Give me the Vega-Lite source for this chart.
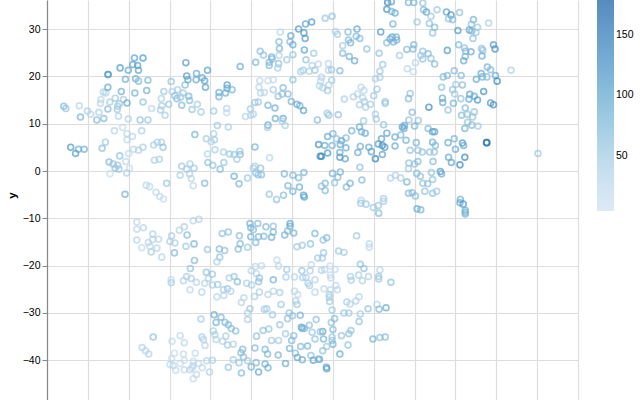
{"$schema":"https://vega.github.io/schema/vega-lite/v6.json","width":531,"height":400,"autosize":{"type":"none"},"padding":{"left":47,"top":0,"right":62,"bottom":0},"background":"white","view":{"stroke":null},"config":{"font":"Liberation Sans"},
"data":{"values":[
{"x":-55.9,"y":13.7,"c":70},{"x":-55.4,"y":13.2,"c":60},{"x":-52.1,"y":13.8,"c":30},{"x":-50.1,"y":12.7,"c":40},{"x":-51.8,"y":11.4,"c":80},{"x":-49.3,"y":12.0,"c":30},{"x":-47.3,"y":12.4,"c":40},{"x":-47.8,"y":10.8,"c":70},{"x":-46.1,"y":11.1,"c":70},{"x":-45.1,"y":13.1,"c":70},{"x":-44.6,"y":14.6,"c":45},{"x":-46.8,"y":15.1,"c":25},{"x":-46.9,"y":14.3,"c":30},{"x":-46.2,"y":16.7,"c":40},{"x":-45.6,"y":16.5,"c":35},{"x":-45.1,"y":17.7,"c":90},{"x":-45.1,"y":20.4,"c":110},{"x":-45.0,"y":20.4,"c":100},{"x":-43.3,"y":15.4,"c":50},{"x":-41.8,"y":16.8,"c":85},{"x":-42.1,"y":21.8,"c":110},{"x":-40.1,"y":21.3,"c":95},{"x":-39,"y":22.5,"c":100},{"x":-38.6,"y":23.9,"c":100},{"x":-36.5,"y":23.9,"c":110},{"x":-37.8,"y":22.3,"c":100},{"x":-37.6,"y":21.3,"c":100},{"x":-40.8,"y":19.4,"c":85},{"x":-38.3,"y":19.5,"c":85},{"x":-37.6,"y":19,"c":70},{"x":-35.3,"y":19.2,"c":75},{"x":-35.6,"y":17,"c":85},{"x":-38.5,"y":16.5,"c":80},{"x":-36.5,"y":14.6,"c":60},{"x":-41.3,"y":15.1,"c":45},{"x":-42.3,"y":14.2,"c":50},{"x":-42.7,"y":13.7,"c":50},{"x":-40.4,"y":14.4,"c":90},{"x":-42.8,"y":13,"c":50},{"x":-42.5,"y":11.6,"c":35},{"x":-40.1,"y":11,"c":35},{"x":-37.2,"y":10.8,"c":60},{"x":-35.3,"y":10.8,"c":55},{"x":-34.4,"y":13.2,"c":30},{"x":-32,"y":15.3,"c":35},{"x":-31.4,"y":16.8,"c":50},{"x":-29.6,"y":18.9,"c":60},{"x":-29.4,"y":16.8,"c":35},{"x":-28,"y":17.2,"c":45},{"x":-26.7,"y":16.5,"c":50},{"x":-26.2,"y":18.2,"c":70},{"x":-28.7,"y":15.9,"c":60},{"x":-28.2,"y":15.3,"c":65},{"x":-27.3,"y":15.6,"c":55},{"x":-25.3,"y":15.8,"c":75},{"x":-25.1,"y":14.9,"c":65},{"x":-27,"y":13.9,"c":70},{"x":-30.2,"y":14.1,"c":55},{"x":-31.9,"y":13.8,"c":40},{"x":-32.2,"y":12.9,"c":45},{"x":-31.1,"y":11.8,"c":40},{"x":-24.5,"y":13,"c":55},{"x":-23.2,"y":14.1,"c":45},{"x":-22.3,"y":12.5,"c":45},{"x":-19.2,"y":12.7,"c":50},{"x":-16,"y":13.2,"c":30},{"x":-16,"y":12.3,"c":20},{"x":-26,"y":22.9,"c":110},{"x":-25.8,"y":20.1,"c":110},{"x":-25.5,"y":19.3,"c":95},{"x":-23.4,"y":20.6,"c":90},{"x":-23.5,"y":19.3,"c":90},{"x":-22,"y":19.7,"c":90},{"x":-21.4,"y":19.1,"c":100},{"x":-21.2,"y":17.7,"c":100},{"x":-20.7,"y":21.3,"c":100},{"x":-17.9,"y":16.6,"c":85},{"x":-17.9,"y":15.7,"c":80},{"x":-16.3,"y":16.5,"c":85},{"x":-15.9,"y":18.2,"c":105},{"x":-15.9,"y":17.5,"c":90},{"x":-14.7,"y":17.2,"c":80},{"x":-12.7,"y":22.1,"c":90},{"x":-8.9,"y":23,"c":75},{"x":-7.8,"y":25.3,"c":65},{"x":-7,"y":24.5,"c":60},{"x":-5,"y":24.1,"c":80},{"x":-4.9,"y":23.7,"c":70},{"x":-5.6,"y":23,"c":70},{"x":-5.6,"y":22.3,"c":70},{"x":-3.3,"y":22.7,"c":60},{"x":-3.5,"y":21.8,"c":40},{"x":-3.2,"y":24.4,"c":35},{"x":-3.1,"y":25.9,"c":75},{"x":-3.2,"y":27.3,"c":70},{"x":-2.9,"y":29.4,"c":30},{"x":-1.3,"y":23.5,"c":50},{"x":-0.3,"y":28.6,"c":90},{"x":-0.5,"y":27.3,"c":70},{"x":0.2,"y":26.7,"c":90},{"x":0.2,"y":24.6,"c":60},{"x":1.6,"y":30,"c":110},{"x":3.3,"y":31.1,"c":100},{"x":4.8,"y":31.5,"c":110},{"x":2.9,"y":29.2,"c":110},{"x":3.2,"y":28,"c":110},{"x":3,"y":25.6,"c":100},{"x":5.3,"y":24.9,"c":50},{"x":3.4,"y":23.5,"c":60},{"x":4.9,"y":22.3,"c":35},{"x":6.4,"y":22.6,"c":25},{"x":5.6,"y":21.3,"c":50},{"x":4.2,"y":21.1,"c":35},{"x":2.7,"y":21.3,"c":50},{"x":2.1,"y":21,"c":40},{"x":0.2,"y":19.3,"c":60},{"x":-7.9,"y":19.1,"c":25},{"x":-5.9,"y":19.1,"c":20},{"x":-4.6,"y":19.3,"c":20},{"x":-8.1,"y":17.7,"c":25},{"x":-7.7,"y":16.5,"c":30},{"x":-6.8,"y":16.6,"c":30},{"x":-4.6,"y":17.2,"c":45},{"x":-3.4,"y":15.8,"c":60},{"x":-2.2,"y":17.6,"c":70},{"x":-2.4,"y":16.3,"c":60},{"x":-1,"y":16.3,"c":70},{"x":-0.2,"y":14.7,"c":80},{"x":1.2,"y":14.1,"c":90},{"x":1.9,"y":13.8,"c":85},{"x":2.8,"y":12.8,"c":100},{"x":-9.1,"y":14.5,"c":55},{"x":-8.3,"y":14.6,"c":50},{"x":-5.9,"y":13.9,"c":75},{"x":-4.2,"y":13.3,"c":85},{"x":-10.2,"y":13.1,"c":50},{"x":-9.5,"y":12,"c":35},{"x":-10.1,"y":11.8,"c":35},{"x":-11.4,"y":11.5,"c":30},{"x":-5.9,"y":9.7,"c":90},{"x":-6,"y":9.2,"c":40},{"x":-4.1,"y":11.1,"c":85},{"x":-2.2,"y":11.1,"c":90},{"x":-2.4,"y":10.5,"c":40},{"x":-1.7,"y":9.6,"c":40},{"x":6.2,"y":10.8,"c":70},{"x":-18.3,"y":9.6,"c":50},{"x":-15.6,"y":9.3,"c":40},{"x":-19.2,"y":7.9,"c":40},{"x":-23.8,"y":7.7,"c":80},{"x":-21,"y":6.8,"c":45},{"x":-19.8,"y":6.2,"c":35},{"x":-19,"y":6.6,"c":45},{"x":-18.9,"y":4.5,"c":40},{"x":-43.5,"y":8.5,"c":30},{"x":-41.5,"y":9.2,"c":20},{"x":-40.4,"y":7.9,"c":30},{"x":-39.1,"y":7.3,"c":25},{"x":-40.4,"y":6.6,"c":25},{"x":-36.8,"y":8.5,"c":40},{"x":-45.7,"y":6.1,"c":50},{"x":-46.5,"y":4.8,"c":65},{"x":-54.2,"y":5,"c":110},{"x":-52.3,"y":4.6,"c":85},{"x":-53,"y":3.7,"c":105},{"x":-50.9,"y":4.6,"c":85},{"x":-40,"y":3.7,"c":20},{"x":-38.8,"y":4.6,"c":25},{"x":-37.6,"y":4.4,"c":35},{"x":-36.5,"y":5,"c":40},{"x":-33.9,"y":5.5,"c":40},{"x":-33,"y":6.1,"c":40},{"x":-32,"y":6.1,"c":45},{"x":-31.6,"y":5,"c":60},{"x":-33.7,"y":2.3,"c":40},{"x":-32.5,"y":2.5,"c":40},{"x":-42.2,"y":3.2,"c":60},{"x":-44.8,"y":1.9,"c":70},{"x":-43.8,"y":1.5,"c":60},{"x":-43.3,"y":0.6,"c":60},{"x":-42.4,"y":0.4,"c":50},{"x":-42.7,"y":1.2,"c":50},{"x":-40.7,"y":2,"c":25},{"x":-39.8,"y":0.6,"c":15},{"x":-40.5,"y":-0.4,"c":40},{"x":-44.6,"y":-0.6,"c":15},{"x":-27,"y":1,"c":50},{"x":-25.8,"y":0.4,"c":45},{"x":-25,"y":1.5,"c":45},{"x":-24,"y":0.6,"c":50},{"x":-27.4,"y":-0.9,"c":40},{"x":-25.1,"y":-0.6,"c":40},{"x":-24.7,"y":-1.6,"c":30},{"x":-24.2,"y":-3.1,"c":25},{"x":-20.7,"y":3.6,"c":30},{"x":-20.6,"y":1.8,"c":60},{"x":-19.4,"y":1.2,"c":60},{"x":-17.6,"y":0.4,"c":70},{"x":-16.7,"y":1.8,"c":55},{"x":-16.8,"y":4,"c":40},{"x":-15.3,"y":3.6,"c":50},{"x":-14.2,"y":3.5,"c":50},{"x":-12.8,"y":4.2,"c":50},{"x":-12.7,"y":3.5,"c":65},{"x":-13.5,"y":2.5,"c":45},{"x":-9.1,"y":5.1,"c":80},{"x":-5.5,"y":2.8,"c":25},{"x":-14.2,"y":-1.1,"c":85},{"x":-13,"y":-2.7,"c":75},{"x":-10.9,"y":-1.5,"c":50},{"x":-9.5,"y":0.6,"c":45},{"x":-9.1,"y":1,"c":40},{"x":-7.7,"y":0.6,"c":60},{"x":-8.9,"y":-0.4,"c":60},{"x":-8.3,"y":-0.8,"c":60},{"x":-7.5,"y":-0.8,"c":65},{"x":-1.9,"y":-0.6,"c":75},{"x":0.2,"y":-0.9,"c":70},{"x":1.6,"y":-1.4,"c":75},{"x":2.9,"y":-0.3,"c":75},{"x":-1,"y":-3.1,"c":80},{"x":0.2,"y":-4.3,"c":80},{"x":1.8,"y":-3.4,"c":85},{"x":2.8,"y":-5.1,"c":100},{"x":3,"y":-5.5,"c":100},{"x":-5.6,"y":-4.9,"c":55},{"x":-2.1,"y":-5.1,"c":70},{"x":-3.8,"y":-6,"c":60},{"x":-21.4,"y":-2.6,"c":70},{"x":-30.7,"y":-2.6,"c":55},{"x":-35.7,"y":-3,"c":30},{"x":-34.9,"y":-3.3,"c":25},{"x":-33.3,"y":-4.5,"c":25},{"x":-32.4,"y":-5.4,"c":20},{"x":-31.5,"y":-5.9,"c":15},{"x":-40.9,"y":-4.9,"c":80},{"x":6.5,"y":5.6,"c":120},{"x":6.9,"y":3.1,"c":130},
{"x":23.4,"y":35.6,"c":130},{"x":24.3,"y":35.8,"c":100},{"x":23.2,"y":34.2,"c":120},{"x":24.4,"y":33.7,"c":80},{"x":25.2,"y":33.4,"c":90},{"x":28.5,"y":35.6,"c":80},{"x":29.8,"y":35.6,"c":80},{"x":32,"y":35.5,"c":60},{"x":32.2,"y":34.1,"c":70},{"x":32.9,"y":33.6,"c":100},{"x":34,"y":32.7,"c":50},{"x":35.5,"y":34.1,"c":50},{"x":37.8,"y":33.6,"c":100},{"x":38.9,"y":33,"c":120},{"x":38.3,"y":32.2,"c":60},{"x":39.3,"y":32,"c":70},{"x":41,"y":33.5,"c":60},{"x":44.4,"y":32,"c":80},{"x":43.9,"y":31,"c":60},{"x":45.4,"y":30.4,"c":50},{"x":43.4,"y":29.8,"c":100},{"x":44,"y":29.6,"c":80},{"x":45,"y":29.3,"c":50},{"x":44.3,"y":28,"c":60},{"x":40.6,"y":29.7,"c":110},{"x":48.1,"y":31.3,"c":40},{"x":33.6,"y":31.2,"c":60},{"x":34.9,"y":30.4,"c":70},{"x":34.4,"y":29.2,"c":60},{"x":30.6,"y":31.5,"c":50},{"x":24.7,"y":31.1,"c":80},{"x":21.7,"y":29.4,"c":110},{"x":8.1,"y":32.3,"c":55},{"x":9.8,"y":32.7,"c":60},{"x":10.6,"y":29.5,"c":35},{"x":11.1,"y":28.9,"c":45},{"x":13.7,"y":29.4,"c":70},{"x":15.9,"y":30,"c":90},{"x":15.7,"y":28.5,"c":70},{"x":16.6,"y":28,"c":70},{"x":13.8,"y":27.7,"c":70},{"x":14.3,"y":27.1,"c":80},{"x":12.4,"y":26.5,"c":50},{"x":18.3,"y":25.8,"c":60},{"x":12.4,"y":24.9,"c":70},{"x":14,"y":24.2,"c":80},{"x":15.3,"y":23.3,"c":90},{"x":21.3,"y":24.9,"c":60},{"x":22.2,"y":22.5,"c":50},{"x":21.5,"y":21.1,"c":50},{"x":21.5,"y":19.8,"c":45},{"x":20.4,"y":19.5,"c":40},{"x":26.3,"y":24.4,"c":45},{"x":23.2,"y":27.1,"c":70},{"x":24,"y":27.9,"c":90},{"x":24.5,"y":28.3,"c":90},{"x":25.5,"y":28.3,"c":80},{"x":24.8,"y":27.3,"c":80},{"x":25.6,"y":27.7,"c":80},{"x":28.1,"y":25.7,"c":70},{"x":29.6,"y":25.8,"c":70},{"x":29.8,"y":26.7,"c":70},{"x":32,"y":25.3,"c":60},{"x":33.3,"y":24.8,"c":70},{"x":31.5,"y":24.4,"c":50},{"x":32,"y":23.7,"c":60},{"x":34,"y":23.8,"c":60},{"x":34.9,"y":22.6,"c":70},{"x":38,"y":25.5,"c":110},{"x":40.8,"y":26.7,"c":70},{"x":42.2,"y":26,"c":60},{"x":42.5,"y":25.3,"c":70},{"x":43.8,"y":25.2,"c":90},{"x":46.4,"y":25.9,"c":60},{"x":46.7,"y":25.5,"c":60},{"x":49.3,"y":26.7,"c":110},{"x":49.7,"y":25.8,"c":120},{"x":46.5,"y":24.3,"c":90},{"x":42.4,"y":24.2,"c":80},{"x":42,"y":23.3,"c":90},{"x":30.2,"y":22.9,"c":30},{"x":28.2,"y":21.6,"c":25},{"x":29.7,"y":21,"c":20},{"x":39.7,"y":21.2,"c":70},{"x":41.4,"y":20.2,"c":70},{"x":38,"y":20.2,"c":70},{"x":37,"y":19.9,"c":70},{"x":47.8,"y":22,"c":80},{"x":48.6,"y":21.4,"c":70},{"x":46.3,"y":20.6,"c":90},{"x":46.6,"y":19.9,"c":80},{"x":47.7,"y":19.9,"c":70},{"x":45.1,"y":19.4,"c":90},{"x":49.8,"y":20.2,"c":90},{"x":50.2,"y":19,"c":130},{"x":53.6,"y":21.3,"c":40},{"x":41.7,"y":18.2,"c":70},{"x":40.1,"y":18.3,"c":50},{"x":36.6,"y":17.7,"c":60},{"x":39.3,"y":17.2,"c":60},{"x":39.8,"y":16.3,"c":50},{"x":28.9,"y":16.4,"c":60},{"x":28.5,"y":15.3,"c":70},{"x":36.8,"y":15.4,"c":90},{"x":36.9,"y":14.5,"c":90},{"x":39.5,"y":14.3,"c":80},{"x":41.3,"y":15.3,"c":60},{"x":43.5,"y":16.2,"c":100},{"x":43.3,"y":15.2,"c":90},{"x":44.6,"y":15.8,"c":90},{"x":45.4,"y":15,"c":110},{"x":46.9,"y":16.8,"c":120},{"x":48.6,"y":14.4,"c":110},{"x":49.3,"y":14,"c":120},{"x":33.5,"y":13.5,"c":130},{"x":38.2,"y":12.9,"c":60},{"x":42.4,"y":13.3,"c":70},{"x":44.6,"y":12.5,"c":60},{"x":41.5,"y":11.8,"c":70},{"x":42.9,"y":12,"c":60},{"x":44.2,"y":11.4,"c":60},{"x":43,"y":10.3,"c":60},{"x":42.3,"y":9,"c":80},{"x":44,"y":9.7,"c":70},{"x":45.5,"y":9.5,"c":50},{"x":29.4,"y":12.4,"c":70},{"x":28.6,"y":10.8,"c":60},{"x":30.9,"y":10.7,"c":60},{"x":30,"y":9.5,"c":80},{"x":27,"y":9.3,"c":100},{"x":27.5,"y":9.6,"c":90},{"x":27.4,"y":9,"c":90},{"x":33.3,"y":9,"c":70},{"x":34.4,"y":8.3,"c":100},{"x":34.9,"y":8.3,"c":100},{"x":22.4,"y":9.8,"c":60},{"x":20.6,"y":11,"c":50},{"x":20.4,"y":12,"c":40},{"x":17.5,"y":10.6,"c":50},{"x":11.3,"y":11.9,"c":60},{"x":8.6,"y":12.2,"c":50},{"x":9,"y":11.8,"c":55},{"x":12.8,"y":15.2,"c":40},{"x":15,"y":15.7,"c":35},{"x":16,"y":16.3,"c":30},{"x":16.9,"y":17.7,"c":25},{"x":17.6,"y":17,"c":25},{"x":20.8,"y":17.3,"c":50},{"x":20,"y":15.9,"c":50},{"x":17.3,"y":15.5,"c":35},{"x":17.7,"y":14.7,"c":40},{"x":16.5,"y":14,"c":40},{"x":18,"y":13.5,"c":40},{"x":19.2,"y":14.1,"c":45},{"x":22.8,"y":14.7,"c":40},{"x":22.8,"y":14.3,"c":60},{"x":8.9,"y":22.7,"c":25},{"x":8.9,"y":21.3,"c":35},{"x":9.7,"y":21.4,"c":50},{"x":11.7,"y":21.2,"c":70},{"x":7.2,"y":19.8,"c":35},{"x":9.7,"y":19.2,"c":50},{"x":7,"y":19,"c":30},{"x":7.5,"y":17.6,"c":40},{"x":9,"y":18.2,"c":35},{"x":8.7,"y":17,"c":50},{"x":6.7,"y":18,"c":30},
{"x":14.6,"y":8.5,"c":80},{"x":16.5,"y":9.3,"c":90},{"x":17,"y":8.3,"c":80},{"x":17.9,"y":8,"c":90},{"x":10,"y":7.9,"c":80},{"x":8.7,"y":7.3,"c":90},{"x":10.9,"y":6.8,"c":60},{"x":13.2,"y":7,"c":70},{"x":12.1,"y":6.4,"c":90},{"x":11.8,"y":5.6,"c":90},{"x":13.2,"y":4.9,"c":90},{"x":9.8,"y":5.4,"c":80},{"x":8,"y":5.4,"c":90},{"x":7.2,"y":3.1,"c":130},{"x":8.7,"y":3.8,"c":110},{"x":11.7,"y":3.9,"c":90},{"x":11.7,"y":2.9,"c":110},{"x":13,"y":2.6,"c":100},{"x":16.1,"y":3.9,"c":90},{"x":16.7,"y":5.2,"c":90},{"x":18.8,"y":5,"c":90},{"x":19.4,"y":4.1,"c":100},{"x":20.4,"y":2.6,"c":140},{"x":22.1,"y":3.5,"c":100},{"x":21.1,"y":5.7,"c":110},{"x":21.9,"y":6.8,"c":100},{"x":23.2,"y":8,"c":100},{"x":22.1,"y":5.4,"c":120},{"x":22.7,"y":5,"c":110},{"x":25.2,"y":5.3,"c":90},{"x":25.2,"y":7.2,"c":90},{"x":26.6,"y":7.6,"c":70},{"x":27.9,"y":6.5,"c":80},{"x":30.4,"y":6,"c":80},{"x":28.9,"y":4.4,"c":60},{"x":30.8,"y":4.4,"c":60},{"x":31.9,"y":4,"c":60},{"x":33.7,"y":4,"c":60},{"x":34.8,"y":4,"c":60},{"x":34.4,"y":6.1,"c":90},{"x":35.1,"y":5.4,"c":70},{"x":38.2,"y":6,"c":90},{"x":39.7,"y":6.8,"c":80},{"x":41.7,"y":5.9,"c":110},{"x":42,"y":5.4,"c":90},{"x":40,"y":4.6,"c":90},{"x":47.6,"y":6,"c":160},{"x":47.7,"y":6,"c":150},{"x":38.3,"y":2.9,"c":90},{"x":39,"y":1.8,"c":100},{"x":42.3,"y":2.9,"c":130},{"x":41.1,"y":1.3,"c":130},{"x":16.6,"y":0.8,"c":60},{"x":9.9,"y":-0.5,"c":80},{"x":11.8,"y":-0.2,"c":80},{"x":11.2,"y":-1.3,"c":70},{"x":10.4,"y":-2.5,"c":60},{"x":8.1,"y":-2.6,"c":70},{"x":7.2,"y":-3.2,"c":60},{"x":8.1,"y":-4.1,"c":70},{"x":13.3,"y":-3.4,"c":70},{"x":14.2,"y":-2.6,"c":80},{"x":17.1,"y":-1.9,"c":70},{"x":28.6,"y":1.7,"c":60},{"x":30,"y":1.5,"c":60},{"x":30.8,"y":2,"c":70},{"x":28.5,"y":0.5,"c":50},{"x":34.5,"y":2,"c":70},{"x":30.5,"y":-0.5,"c":70},{"x":31.4,"y":-1.1,"c":60},{"x":34.1,"y":-0.3,"c":60},{"x":36.3,"y":-0.1,"c":110},{"x":36.6,"y":-0.6,"c":90},{"x":34.4,"y":-1.8,"c":60},{"x":32,"y":-2.6,"c":60},{"x":33.2,"y":-2.7,"c":60},{"x":24.1,"y":-1.5,"c":35},{"x":25.3,"y":-0.9,"c":35},{"x":26.6,"y":-1.5,"c":40},{"x":28.1,"y":-2.3,"c":80},{"x":28.5,"y":-4.7,"c":70},{"x":29.4,"y":-4.6,"c":70},{"x":30.2,"y":-5.3,"c":70},{"x":32.5,"y":-4.3,"c":60},{"x":34.4,"y":-4.7,"c":60},{"x":35.4,"y":-4.3,"c":50},{"x":22.4,"y":-5.8,"c":40},{"x":41.2,"y":-6,"c":90},{"x":16.9,"y":-6.2,"c":30},
{"x":16.8,"y":-6.8,"c":50},{"x":18.1,"y":-7,"c":50},{"x":19.9,"y":-7.7,"c":50},{"x":21.1,"y":-7.3,"c":50},{"x":22.4,"y":-6.4,"c":40},{"x":21.2,"y":-8.9,"c":70},{"x":30.6,"y":-8,"c":90},{"x":31.5,"y":-8.2,"c":80},{"x":41.1,"y":-6.7,"c":90},{"x":41.9,"y":-7,"c":110},{"x":42.4,"y":-8.3,"c":80},{"x":42.4,"y":-8.7,"c":80},{"x":42.4,"y":-9.1,"c":80},{"x":15.8,"y":-13.7,"c":50},{"x":18.9,"y":-15.4,"c":25},{"x":18.9,"y":-16.1,"c":20},{"x":7.6,"y":-14.6,"c":60},{"x":8.5,"y":-14.1,"c":70},{"x":11.4,"y":-16.9,"c":50},{"x":12.7,"y":-17.2,"c":50},{"x":7.7,"y":-17.3,"c":50},{"x":7.4,"y":-18.4,"c":45},{"x":16.7,"y":-19.7,"c":60},{"x":17.6,"y":-20.6,"c":60},{"x":21.5,"y":-20.9,"c":30},{"x":10.5,"y":-20.8,"c":20},{"x":9.3,"y":-20.1,"c":15},{"x":8,"y":-20.8,"c":30},{"x":7.2,"y":-21,"c":35},{"x":9.4,"y":-22,"c":20},{"x":9.5,"y":-22.6,"c":25},{"x":14.3,"y":-22.3,"c":40},{"x":14.5,"y":-23.1,"c":40},{"x":16.3,"y":-22,"c":40},{"x":17.2,"y":-23.2,"c":35},{"x":18.7,"y":-22.3,"c":35},{"x":21.2,"y":-22.3,"c":50},{"x":21.2,"y":-22.8,"c":50},{"x":24.2,"y":-23.5,"c":60},{"x":7.8,"y":-24.9,"c":20},{"x":9.4,"y":-25.1,"c":25},{"x":10.7,"y":-24.2,"c":25},{"x":11.1,"y":-25.1,"c":25},{"x":9.1,"y":-26.1,"c":40},{"x":9.1,"y":-26.7,"c":40},{"x":9.2,"y":-27.6,"c":50},{"x":13.4,"y":-27.7,"c":40},{"x":14.2,"y":-28.1,"c":30},{"x":15.6,"y":-27.5,"c":35},{"x":16.4,"y":-26.6,"c":30},{"x":20.8,"y":-28.2,"c":35},{"x":21.3,"y":-29.2,"c":70},{"x":23,"y":-28.9,"c":90},{"x":18.6,"y":-29.1,"c":60},{"x":9.8,"y":-29.4,"c":50},{"x":12.7,"y":-30,"c":50},{"x":13.9,"y":-30,"c":50},{"x":16.7,"y":-30.2,"c":50},{"x":16.4,"y":-31.8,"c":60},{"x":10.4,"y":-31.2,"c":70},{"x":9.6,"y":-32,"c":60},{"x":10,"y":-33.5,"c":70},{"x":7.5,"y":-33.9,"c":100},{"x":12.1,"y":-34.8,"c":60},{"x":13.9,"y":-34.4,"c":60},{"x":14.4,"y":-33.7,"c":60},{"x":19.8,"y":-35.5,"c":80},{"x":21.5,"y":-35.2,"c":60},{"x":22.8,"y":-35.1,"c":70},{"x":7.7,"y":-35.5,"c":80},{"x":9.8,"y":-35.1,"c":50},{"x":9.8,"y":-35.8,"c":60},{"x":10,"y":-36.6,"c":80},{"x":8.5,"y":-37.1,"c":50},{"x":7.5,"y":-38,"c":60},{"x":13.7,"y":-36.8,"c":60},{"x":11.7,"y":-38.7,"c":90},{"x":6.7,"y":-39.8,"c":100},{"x":8.4,"y":-41.5,"c":100},{"x":8.5,"y":-41.8,"c":100},
{"x":-38,"y":-10.8,"c":25},{"x":-38,"y":-12.3,"c":25},{"x":-36.4,"y":-12,"c":30},{"x":-38,"y":-14.6,"c":30},{"x":-36.8,"y":-16.2,"c":20},{"x":-35.2,"y":-15.1,"c":25},{"x":-34.1,"y":-13.3,"c":35},{"x":-34.1,"y":-14.5,"c":35},{"x":-32.7,"y":-14.4,"c":30},{"x":-34.5,"y":-17.1,"c":45},{"x":-33.1,"y":-16.3,"c":30},{"x":-34.8,"y":-15.9,"c":25},{"x":-31.9,"y":-18.2,"c":30},{"x":-29.9,"y":-14.9,"c":40},{"x":-29.5,"y":-13.7,"c":40},{"x":-28.7,"y":-15.2,"c":45},{"x":-28.8,"y":-17.3,"c":70},{"x":-27.6,"y":-12.5,"c":35},{"x":-26.4,"y":-11.8,"c":35},{"x":-25.7,"y":-13.5,"c":70},{"x":-26,"y":-15.9,"c":50},{"x":-24,"y":-15.4,"c":80},{"x":-24.2,"y":-10.5,"c":30},{"x":-22.8,"y":-10.2,"c":35},{"x":-23.9,"y":-18.9,"c":70},{"x":-24.9,"y":-20.6,"c":60},{"x":-20.7,"y":-16.6,"c":55},{"x":-17.8,"y":-16.5,"c":70},{"x":-16.5,"y":-16.8,"c":60},{"x":-17.7,"y":-18.2,"c":60},{"x":-18.4,"y":-19.2,"c":40},{"x":-17.1,"y":-13.2,"c":60},{"x":-15.6,"y":-12.9,"c":60},{"x":-12.9,"y":-13.7,"c":65},{"x":-12.7,"y":-15.4,"c":70},{"x":-13.2,"y":-16.5,"c":70},{"x":-10.9,"y":-16.1,"c":50},{"x":-10.3,"y":-11.1,"c":80},{"x":-10.1,"y":-12,"c":80},{"x":-9.5,"y":-12.4,"c":70},{"x":-8.4,"y":-11.1,"c":70},{"x":-6.4,"y":-11.8,"c":70},{"x":-4.6,"y":-11.7,"c":60},{"x":-4.6,"y":-12.9,"c":70},{"x":-10.1,"y":-13.9,"c":85},{"x":-8.2,"y":-13.9,"c":75},{"x":-6.9,"y":-13.8,"c":70},{"x":-5,"y":-14,"c":85},{"x":-8.9,"y":-15.1,"c":70},{"x":-0.5,"y":-11.1,"c":90},{"x":-0.5,"y":-11.7,"c":90},{"x":-1.1,"y":-12.7,"c":70},{"x":-1.8,"y":-13.5,"c":80},{"x":0.4,"y":-13.1,"c":80},{"x":5.6,"y":-13.2,"c":75},{"x":1.2,"y":-16,"c":50},{"x":2.5,"y":-15.7,"c":50},{"x":4.5,"y":-15.4,"c":60},{"x":6.3,"y":-18.4,"c":50},{"x":4.7,"y":-19.8,"c":25},{"x":-3.7,"y":-18.8,"c":20},{"x":-3.3,"y":-20.1,"c":30},{"x":-1.3,"y":-20.8,"c":50},{"x":2.4,"y":-21.1,"c":55},{"x":4.4,"y":-21.1,"c":40},{"x":-7.5,"y":-20,"c":25},{"x":-9,"y":-20.2,"c":25},{"x":-10,"y":-21.1,"c":30},{"x":-8.7,"y":-21.7,"c":30},{"x":-1.5,"y":-22.4,"c":40},{"x":0.6,"y":-22.4,"c":30},{"x":2.6,"y":-22.5,"c":40},{"x":3.4,"y":-22.5,"c":40},{"x":3.9,"y":-23.7,"c":40},{"x":4.3,"y":-24.2,"c":40},{"x":5.6,"y":-23,"c":30},{"x":-8,"y":-22.6,"c":60},{"x":-8.2,"y":-23.4,"c":60},{"x":-4.6,"y":-23,"c":80},{"x":-11.1,"y":-23.7,"c":40},{"x":-9.9,"y":-24.1,"c":40},{"x":-15.4,"y":-22.6,"c":40},{"x":-14.2,"y":-22.3,"c":50},{"x":-13.4,"y":-23.4,"c":70},{"x":-21,"y":-21.4,"c":60},{"x":-19.5,"y":-21.8,"c":55},{"x":-20.5,"y":-22.7,"c":40},{"x":-25.8,"y":-22.3,"c":40},{"x":-24.7,"y":-22.7,"c":40},{"x":-26.6,"y":-23.2,"c":35},{"x":-23.4,"y":-23.5,"c":30},{"x":-21.4,"y":-23.7,"c":30},{"x":-19.5,"y":-24.1,"c":40},{"x":-18.2,"y":-24,"c":50},{"x":-29.6,"y":-23,"c":20},{"x":-29.6,"y":-23.6,"c":40},{"x":-25,"y":-25.1,"c":25},{"x":-22.1,"y":-25.6,"c":30},{"x":-18.4,"y":-26.6,"c":25},{"x":-16.7,"y":-26.3,"c":30},{"x":-16.8,"y":-25.1,"c":40},{"x":-15.8,"y":-24.9,"c":50},{"x":-15,"y":-25.4,"c":35},{"x":-11.8,"y":-26.8,"c":30},{"x":-12.4,"y":-27.8,"c":30},{"x":-9.2,"y":-26.5,"c":40},{"x":-8,"y":-25.6,"c":40},{"x":-5.9,"y":-26.1,"c":30},{"x":-4.6,"y":-25.4,"c":30},{"x":-3,"y":-25.7,"c":40},{"x":-2.7,"y":-28.2,"c":50},{"x":0.6,"y":-25.4,"c":30},{"x":1.4,"y":-26.1,"c":20},{"x":0.9,"y":-27.5,"c":35},{"x":1.2,"y":-28.2,"c":50},{"x":5.6,"y":-25.6,"c":25},{"x":-10.3,"y":-29.1,"c":50},{"x":-10.9,"y":-30,"c":35},{"x":-10.9,"y":-31.4,"c":40},{"x":-6.8,"y":-29.2,"c":45},{"x":-6.2,"y":-29.1,"c":45},{"x":-4.8,"y":-30.4,"c":50},{"x":-0.7,"y":-30,"c":60},{"x":0.1,"y":-30.6,"c":60},{"x":-1.1,"y":-31.2,"c":60},{"x":2,"y":-30.5,"c":80},{"x":5.9,"y":-31.4,"c":60},{"x":-22.3,"y":-31.3,"c":45},{"x":-19.1,"y":-30.4,"c":90},{"x":-17.4,"y":-30.9,"c":75},{"x":-18.6,"y":-32,"c":85},{"x":-16.4,"y":-32,"c":75},{"x":-15.6,"y":-32.5,"c":70},{"x":-14.9,"y":-33.3,"c":65},{"x":-13.8,"y":-33.8,"c":65},{"x":-19.3,"y":-33.8,"c":45},{"x":-18.9,"y":-34.6,"c":40},{"x":-18.6,"y":-35.6,"c":35},{"x":-17,"y":-36,"c":35},{"x":-16.2,"y":-34.9,"c":40},{"x":-15.8,"y":-36.8,"c":45},{"x":-14.4,"y":-36.6,"c":40},{"x":-22.1,"y":-35.1,"c":40},{"x":-21.7,"y":-35.6,"c":35},{"x":-21.3,"y":-36.9,"c":30},{"x":-27.4,"y":-34.8,"c":25},{"x":-29.4,"y":-36,"c":20},{"x":-26.4,"y":-36.3,"c":25},{"x":-34,"y":-35.1,"c":60},{"x":-36.7,"y":-37.3,"c":35},{"x":-35.9,"y":-38,"c":30},{"x":-35.1,"y":-38.7,"c":35},{"x":-28.8,"y":-38.5,"c":15},{"x":-26.6,"y":-38.7,"c":20},{"x":-23.7,"y":-38.5,"c":20},{"x":-29.5,"y":-39.7,"c":15},{"x":-29.9,"y":-40.9,"c":20},{"x":-29.1,"y":-41.1,"c":25},{"x":-28.5,"y":-42.1,"c":20},{"x":-27.4,"y":-40.7,"c":15},{"x":-26.4,"y":-40,"c":15},{"x":-26.4,"y":-42,"c":20},{"x":-25,"y":-42,"c":30},{"x":-24.2,"y":-40.2,"c":20},{"x":-24.2,"y":-41.1,"c":25},{"x":-23.4,"y":-43,"c":25},{"x":-24.2,"y":-43.9,"c":20},{"x":-22.9,"y":-40.7,"c":25},{"x":-22,"y":-41.6,"c":25},{"x":-20.9,"y":-40.1,"c":30},{"x":-19.5,"y":-40,"c":40},{"x":-20.2,"y":-42.5,"c":35},{"x":-24.5,"y":-41.6,"c":25},{"x":-14.4,"y":-39.9,"c":45},{"x":-15.6,"y":-41.5,"c":55},{"x":-13,"y":-40.5,"c":55},{"x":-12.4,"y":-42.7,"c":70},{"x":-12.5,"y":-38.4,"c":70},{"x":-12.1,"y":-37.7,"c":70},{"x":-11.9,"y":-39.3,"c":65},{"x":-10.9,"y":-40.1,"c":50},{"x":-10,"y":-41.4,"c":80},{"x":-8.8,"y":-40.5,"c":70},{"x":-8.2,"y":-42.5,"c":95},{"x":-9.1,"y":-37.4,"c":70},{"x":-8.7,"y":-34.9,"c":60},{"x":-6.6,"y":-37.7,"c":70},{"x":-6,"y":-38.7,"c":75},{"x":-6.6,"y":-40.8,"c":85},{"x":-5.9,"y":-41.6,"c":85},{"x":-7.1,"y":-33.7,"c":60},{"x":-5.7,"y":-33.4,"c":55},{"x":-3,"y":-32.5,"c":55},{"x":-5,"y":-35.8,"c":50},{"x":-3.3,"y":-35.8,"c":45},{"x":-1.6,"y":-34.4,"c":50},{"x":0.4,"y":-34.8,"c":70},{"x":-0.1,"y":-35.8,"c":70},{"x":-0.6,"y":-37.5,"c":80},{"x":-3.4,"y":-38.9,"c":75},{"x":-1.6,"y":-40.7,"c":90},{"x":0.8,"y":-38.5,"c":70},{"x":1.3,"y":-39.4,"c":90},{"x":2.5,"y":-39.9,"c":85},{"x":2.1,"y":-37.1,"c":70},{"x":3.8,"y":-37,"c":80},{"x":2.3,"y":-33,"c":100},{"x":2.5,"y":-33.3,"c":90},{"x":3,"y":-33.3,"c":70},{"x":4.2,"y":-32.6,"c":60},{"x":4.9,"y":-34.1,"c":50},{"x":5.6,"y":-35.5,"c":60},{"x":4.6,"y":-39,"c":60},{"x":5.2,"y":-40,"c":100},{"x":6.4,"y":-39.8,"c":70},{"x":6.9,"y":-34,"c":60},
{"x":60.2,"y":3.7,"c":50}
]},
"mark":{"type":"point","filled":false,"opacity":0.7,"size":34,"strokeWidth":1.7},
"encoding":{
"x":{"field":"x","type":"quantitative","scale":{"domain":[-60,70],"nice":false,"zero":false},"axis":{"title":null,"labels":false,"ticks":false,"domain":false,"grid":true,"gridColor":"#ddd","gridWidth":1.2,"values":[-60,-50,-40,-30,-20,-10,0,10,20,30,40,50,60,70]}},
"y":{"field":"y","type":"quantitative","scale":{"domain":[-48.4,36.15],"nice":false,"zero":false},"axis":{"title":"y","titleFontSize":11.5,"titleX":-30,"titleY":195,"grid":true,"gridColor":"#ddd","gridWidth":1.2,"domainColor":"#888","domainWidth":1.2,"tickColor":"#888","labelFontSize":10.5,"labelColor":"#000","values":[-40,-30,-20,-10,0,10,20,30]}},
"stroke":{"field":"c","type":"quantitative","scale":{"domain":[4.5,195],"nice":false,"zero":false,"scheme":"blues"},"legend":{"orient":"none","legendX":550,"legendY":-20,"title":null,"gradientLength":231,"gradientThickness":17,"values":[50,100,150],"labelFontSize":10.5,"labelColor":"#000","gradientStrokeWidth":0,"tickCount":3}}
}}
